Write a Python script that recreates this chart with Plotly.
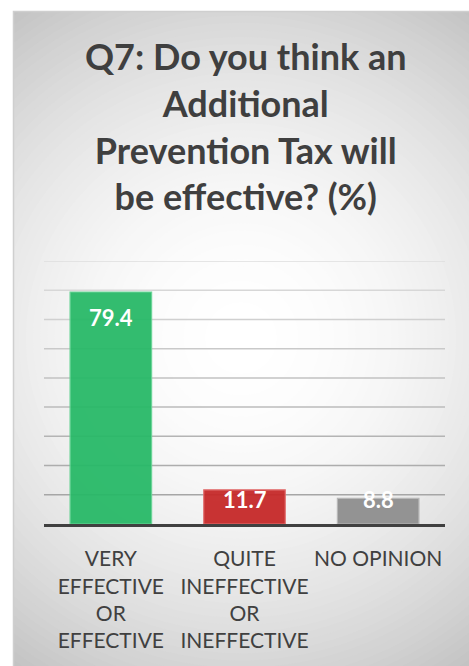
import plotly.graph_objects as go

# Survey answers and percentages
categories = ["VERY<br>EFFECTIVE<br>OR<br>EFFECTIVE",
              "QUITE<br>INEFFECTIVE<br>OR<br>INEFFECTIVE",
              "NO OPINION"]
values = [79.4, 11.7, 8.8]
bar_colors = ["#27b967", "#c62828", "#8e8e8e"]
bar_edges = ["#62d291", "#e26a6a", "#b4b4b4"]
grid_ticks = [10, 20, 30, 40, 50, 60, 70, 80, 90]
title_text = "Q7: Do you think an<br>Additional<br>Prevention Tax will<br>be effective? (%)"

W, H = 469, 666
ML, MR, MT, MB = 44, 24, 261, 142
PW, PH = W - ML - MR, H - MT - MB
FONT = "Lato"


def px_x(px):
    return (px - ML) / PW


def px_y(py):
    return (H - MB - py) / PH


shapes = []

# radial grey-to-white background of the chart frame
cx, cy = 241, 338
steps = 60
rmax = 430
for i in range(steps):
    r = rmax * (1 - i / steps)
    b = int(round(255 - 3.75e-4 * r * r))
    b = max(min(b, 255), 180)
    col = f"rgb({b},{b},{b})"
    shapes.append(dict(type="circle", xref="paper", yref="paper", layer="below",
                       x0=px_x(cx - r), x1=px_x(cx + r),
                       y0=px_y(cy + r), y1=px_y(cy - r),
                       fillcolor=col, line=dict(width=0)))

# white page outside the frame
for (x0, y0, x1, y1) in [(-50, -50, W + 50, 11), (-50, -50, 13, H + 50)]:
    shapes.append(dict(type="rect", xref="paper", yref="paper", layer="below",
                       x0=px_x(x0), x1=px_x(x1), y0=px_y(y1), y1=px_y(y0),
                       fillcolor="white", line=dict(width=0)))
shapes.append(dict(type="rect", xref="paper", yref="paper", layer="below",
                   x0=px_x(13.5), x1=px_x(W + 5), y0=px_y(H + 5), y1=px_y(11.5),
                   fillcolor="rgba(0,0,0,0)", line=dict(color="#cfcfcf", width=1.5)))

# horizontal gridlines, darker towards the baseline
n = len(grid_ticks)
for i, t in enumerate(grid_ticks):
    f = i / (n - 1)
    g = int(round(166 + f * (222 - 166)))
    shapes.append(dict(type="line", xref="paper", yref="y", layer="below",
                       x0=0, x1=1, y0=t, y1=t,
                       line=dict(color=f"rgb({g},{g},{g})", width=1.5)))

fig = go.Figure()
fig.add_trace(go.Bar(
    x=categories, y=values, width=0.61,
    marker=dict(color=bar_colors, line=dict(color=bar_edges, width=1.2)),
    opacity=0.94, hoverinfo="skip",
))

annotations = [dict(
    text=title_text, xref="paper", yref="paper",
    x=px_x(246), y=px_y(32), xanchor="center", yanchor="top",
    showarrow=False, align="center",
    font=dict(family=FONT, size=36, color="#3f3f3f", weight="bold"),
)]

# value labels inside the top of each bar, kept clear of the baseline
for c, v in zip(categories, values):
    annotations.append(dict(
        text=f"{v:.1f}", x=c, y=max(v - 8.7, 8.5), xref="x", yref="y",
        xanchor="center", yanchor="middle", showarrow=False,
        font=dict(family=FONT, size=22, color="white", weight="bold"),
    ))

fig.update_layout(
    width=W, height=H,
    margin=dict(l=ML, r=MR, t=MT, b=MB),
    paper_bgcolor="white", plot_bgcolor="rgba(0,0,0,0)",
    showlegend=False, bargap=0.39,
    shapes=shapes, annotations=annotations,
    font=dict(family=FONT, color="#404040"),
    xaxis=dict(showgrid=False, showline=True, linecolor="#404040", linewidth=3,
               ticks="", tickfont=dict(family=FONT, size=21, color="#404040"),
               ticklabelstandoff=14, fixedrange=True),
    yaxis=dict(range=[0, 90], showgrid=False, zeroline=False,
               showticklabels=False, ticks="", fixedrange=True),
)

fig.write_html("out.html")
